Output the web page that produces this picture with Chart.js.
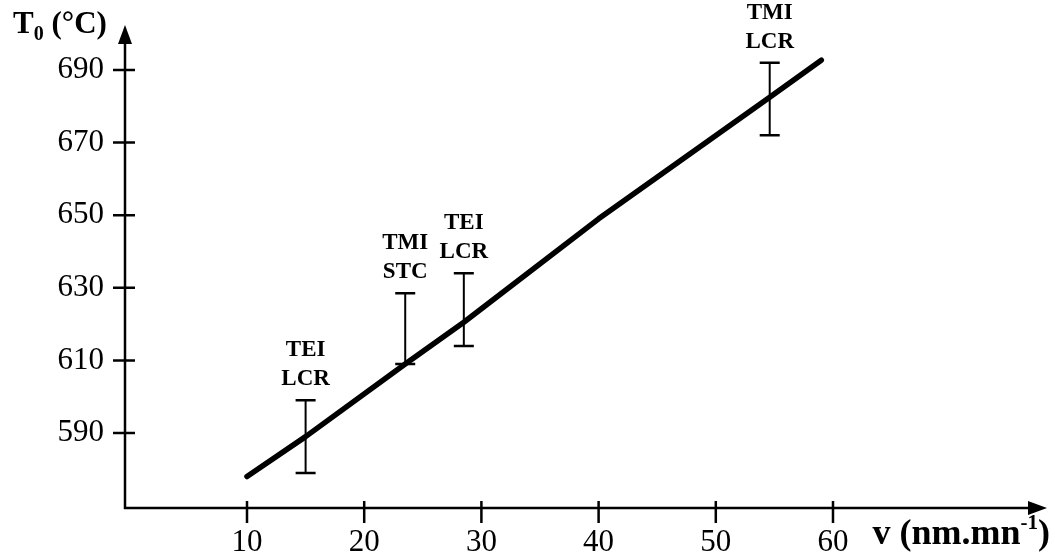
<!DOCTYPE html>
<html><head><meta charset="utf-8">
<script src="https://cdn.jsdelivr.net/npm/chart.js@4.4.0/dist/chart.umd.min.js"></script>
<style>html,body{margin:0;padding:0;background:#fff}#wrap{width:1055px;height:559px;position:relative}</style>
</head><body><div id="wrap"><canvas id="c" width="1055" height="559"></canvas></div>
<script>
// fitted line
const fitX = [10, 15, 23.5, 28.5, 40, 54.6, 59];
const fitY = [578, 589, 609, 620.5, 649, 682.5, 692.7];
// error bars
const barX = [15, 23.5, 28.5, 54.6];
const barLow = [579, 609, 614, 672];
const barHigh = [599, 628.5, 634, 692];
const barLabelTop = ['TEI', 'TMI', 'TEI', 'TMI'];
const barLabelBottom = ['LCR', 'STC', 'LCR', 'LCR'];
// ticks
const xTicks = [10, 20, 30, 40, 50, 60];
const yTicks = [590, 610, 630, 650, 670, 690];
const yTitleMain = 'T', yTitleSub = '0', yTitleRest = ' (°C)';
const xTitleMain = 'v (nm.mn', xTitleSup = '-1', xTitleEnd = ')';

const SERIF = "'Liberation Serif', 'DejaVu Serif', serif";

const decor = {
  id: 'decor',
  afterDatasetsDraw(chart) {
    const ctx = chart.ctx, a = chart.chartArea;
    const xs = chart.scales.x, ys = chart.scales.y;
    ctx.save();
    ctx.strokeStyle = '#000'; ctx.fillStyle = '#000';
    // axes
    ctx.lineWidth = 2.5; ctx.lineCap = 'butt';
    ctx.beginPath();
    ctx.moveTo(a.left, a.top + 14); ctx.lineTo(a.left, a.bottom); ctx.lineTo(a.right - 14, a.bottom);
    ctx.stroke();
    // arrows
    ctx.beginPath();
    ctx.moveTo(a.left, a.top); ctx.lineTo(a.left - 7, a.top + 19); ctx.lineTo(a.left + 7, a.top + 19); ctx.closePath(); ctx.fill();
    ctx.beginPath();
    ctx.moveTo(a.right, a.bottom); ctx.lineTo(a.right - 19, a.bottom - 7); ctx.lineTo(a.right - 19, a.bottom + 7); ctx.closePath(); ctx.fill();
    // ticks
    ctx.lineWidth = 2.5;
    ctx.beginPath();
    yTicks.forEach(v => { const y = ys.getPixelForValue(v); ctx.moveTo(a.left - 12, y); ctx.lineTo(a.left + 10, y); });
    xTicks.forEach(v => { const x = xs.getPixelForValue(v); ctx.moveTo(x, a.bottom - 7); ctx.lineTo(x, a.bottom + 15); });
    ctx.stroke();
    // error bars
    barX.forEach((v, i) => {
      const x = xs.getPixelForValue(v), y1 = ys.getPixelForValue(barLow[i]), y2 = ys.getPixelForValue(barHigh[i]);
      ctx.lineWidth = 2;
      ctx.beginPath(); ctx.moveTo(x, y1); ctx.lineTo(x, y2); ctx.stroke();
      ctx.lineWidth = 2.5;
      ctx.beginPath(); ctx.moveTo(x - 10, y1); ctx.lineTo(x + 10, y1); ctx.moveTo(x - 10, y2); ctx.lineTo(x + 10, y2); ctx.stroke();
      ctx.font = 'bold 23px ' + SERIF; ctx.textAlign = 'center'; ctx.textBaseline = 'middle';
      ctx.fillText(barLabelBottom[i], x, y2 - 21);
      ctx.fillText(barLabelTop[i], x, y2 - 50);
    });
    // y title
    ctx.textAlign = 'left'; ctx.textBaseline = 'alphabetic';
    let tx = 13;
    ctx.font = 'bold 31px ' + SERIF; ctx.fillText(yTitleMain, tx, 33); tx += ctx.measureText(yTitleMain).width;
    ctx.font = 'bold 20px ' + SERIF; ctx.fillText(yTitleSub, tx, 40); tx += ctx.measureText(yTitleSub).width;
    ctx.font = 'bold 31px ' + SERIF; ctx.fillText(yTitleRest, tx, 33);
    // x title
    const big = 'bold 36px ' + SERIF, small = 'bold 21px ' + SERIF;
    ctx.font = big;
    const wEnd = ctx.measureText(xTitleEnd).width;
    const wMain = ctx.measureText(xTitleMain).width;
    ctx.font = small;
    const wSup = ctx.measureText(xTitleSup).width;
    let sx = 1050 - wEnd - wSup - wMain;
    ctx.font = big; ctx.fillText(xTitleMain, sx, 544); sx += wMain;
    ctx.font = small; ctx.fillText(xTitleSup, sx, 529); sx += wSup;
    ctx.font = big; ctx.fillText(xTitleEnd, sx, 544);
    ctx.restore();
  }
};

new Chart(document.getElementById('c'), {
  type: 'line',
  data: {
    datasets: [{
      data: fitX.map((x, i) => ({ x: x, y: fitY[i] })),
      borderColor: '#000', borderWidth: 5.5, pointRadius: 0, tension: 0,
      borderCapStyle: 'round', borderJoinStyle: 'round', fill: false
    }]
  },
  options: {
    responsive: false, animation: false, events: [],
    layout: { padding: { top: 25, right: 8, left: 0, bottom: 0 } },
    plugins: { legend: { display: false }, tooltip: { enabled: false } },
    scales: {
      x: {
        type: 'linear', min: -0.41, max: 78.26,
        afterBuildTicks: s => { s.ticks = xTicks.map(v => ({ value: v })); },
        afterFit: s => { s.height = 51; s.paddingLeft = 0; s.paddingRight = 0; },
        grid: { display: false, drawTicks: false }, border: { display: false },
        ticks: { padding: 16, color: '#000', font: { family: SERIF, size: 31 }, maxRotation: 0, autoSkip: false }
      },
      y: {
        type: 'linear', min: 569.34, max: 702.4,
        afterBuildTicks: s => { s.ticks = yTicks.map(v => ({ value: v })); },
        afterFit: s => { s.width = 125; s.paddingTop = 0; s.paddingBottom = 0; },
        grid: { display: false, drawTicks: false }, border: { display: false },
        ticks: { padding: 21, color: '#000', font: { family: SERIF, size: 31 }, autoSkip: false }
      }
    }
  },
  plugins: [decor]
});
</script>
</body></html>
